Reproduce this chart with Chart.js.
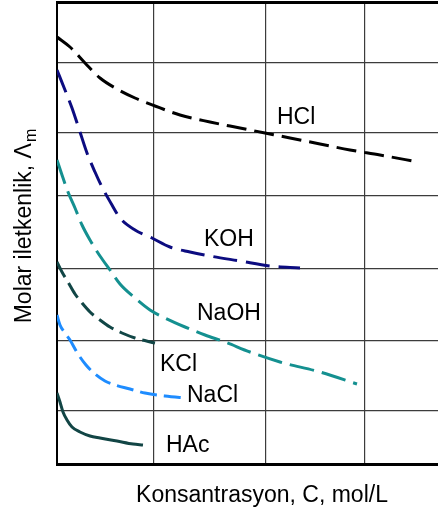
<!DOCTYPE html>
<html>
<head>
<meta charset="utf-8">
<script src="https://cdn.jsdelivr.net/npm/chart.js@4.4.0/dist/chart.umd.min.js"></script>
<style>
  html, body { margin: 0; padding: 0; background: #fff; overflow: hidden; }
  #wrap { width: 480px; height: 511px; }
</style>
</head>
<body>
<div id="wrap"><canvas id="c" width="480" height="511"></canvas></div>
<script>
// ---- Data (arbitrary units) ----
const seriesNames = ["HCl", "KOH", "NaOH", "KCl", "NaCl", "HAc"];

const hclX  = [0, 0.13, 0.28, 0.43, 0.60, 0.78, 0.98, 1.23, 1.53, 1.83, 2.08, 2.33, 2.63, 2.93, 3.23, 3.61];
const hclY  = [42.7, 41.7, 40.1, 38.6, 37.5, 36.6, 35.8, 34.9, 34.2, 33.6, 33.1, 32.6, 32.0, 31.4, 30.9, 30.2];

const kohX  = [0, 0.08, 0.15, 0.23, 0.30, 0.38, 0.45, 0.55, 0.63, 0.78, 0.95, 1.13, 1.33, 1.53, 1.83, 2.13, 2.43];
const kohY  = [39.4, 37.4, 35.6, 33.2, 31.1, 29.2, 27.7, 25.9, 24.6, 23.4, 22.6, 21.7, 21.2, 20.8, 20.3, 19.8, 19.6];

const naohX = [0, 0.05, 0.11, 0.18, 0.25, 0.33, 0.43, 0.53, 0.63, 0.78, 0.93, 1.08, 1.28, 1.48, 1.68, 1.93, 2.23, 2.63, 3.00];
const naohY = [30.4, 28.9, 27.2, 25.6, 23.9, 22.4, 20.8, 19.4, 18.0, 16.6, 15.4, 14.6, 13.7, 12.9, 12.2, 11.2, 10.2, 9.2, 8.0];

const kclX  = [0, 0.05, 0.11, 0.18, 0.25, 0.33, 0.43, 0.53, 0.65, 0.78, 0.98];
const kclY  = [20.2, 19.2, 18.2, 17.0, 16.1, 15.2, 14.4, 13.7, 13.1, 12.6, 12.1];

const naclX = [0, 0.03, 0.08, 0.13, 0.21, 0.29, 0.38, 0.48, 0.58, 0.73, 0.88, 1.08, 1.30];
const naclY = [14.9, 13.9, 13.1, 12.4, 11.0, 9.9, 9.0, 8.3, 7.9, 7.5, 7.1, 6.8, 6.6];

const hacX  = [0, 0.03, 0.06, 0.10, 0.15, 0.23, 0.33, 0.43, 0.60, 0.76, 0.86];
const hacY  = [7.1, 6.2, 5.2, 4.4, 3.7, 3.2, 2.8, 2.6, 2.3, 2.0, 1.9];

// label anchors (data units, text baseline-left)
const labelX = [2.20, 1.47, 1.40, 1.03, 1.30, 1.09];
const labelY = [34.0, 21.8, 14.4, 9.3, 6.2, 1.2];

// grid tick values (no tick labels shown)
const gridX = [0, 0.97, 2.09, 3.08, 4.1];
const gridY = [0, 5.37, 12.33, 19.57, 26.8, 33.13, 40.13, 46.2];

const xTitle = "Konsantrasyon, C, mol/L";
const yTitleMain = "Molar iletkenlik, \u039B";
const yTitleSub = "m";

const X_MAX = 4.1, Y_MAX = 46.2;

function pts(xs, ys) { return xs.map((x, i) => ({ x: x, y: ys[i] })); }

const colors = ["#000000", "#0c0c80", "#149090", "#114646", "#1e8cff", "#124545"];
const dashes = [[20, 8], [24, 9], [25, 8], [17, 7], [17, 7], []];
const allX = [hclX, kohX, naohX, kclX, naclX, hacX];
const allY = [hclY, kohY, naohY, kclY, naclY, hacY];

const datasets = seriesNames.map((n, i) => ({
  label: n,
  data: pts(allX[i], allY[i]),
  borderColor: colors[i],
  borderWidth: 3,
  borderDash: dashes[i],
  pointRadius: 0,
  fill: false,
  cubicInterpolationMode: 'monotone'
}));

const FONT = "23px 'Liberation Sans', Arial, sans-serif";

const textPlugin = {
  id: 'texts',
  afterDraw(chart) {
    const ctx = chart.ctx, ca = chart.chartArea;
    const sx = chart.scales.x, sy = chart.scales.y;
    ctx.save();
    ctx.fillStyle = '#000';
    ctx.font = FONT;
    ctx.textBaseline = 'alphabetic';
    ctx.textAlign = 'left';
    seriesNames.forEach((n, i) => {
      ctx.fillText(n, sx.getPixelForValue(labelX[i]), sy.getPixelForValue(labelY[i]));
    });
    // x title
    ctx.textAlign = 'center';
    ctx.fillText(xTitle, (ca.left + ca.right) / 2, ca.bottom + 38);
    // y title (rotated)
    ctx.textAlign = 'left';
    const wMain = ctx.measureText(yTitleMain).width;
    ctx.font = "16px 'Liberation Sans', Arial, sans-serif";
    const wSub = ctx.measureText(yTitleSub).width;
    const total = wMain + 1 + wSub;
    const cy = 226;
    ctx.translate(31, cy + total / 2);
    ctx.rotate(-Math.PI / 2);
    ctx.font = FONT;
    ctx.fillText(yTitleMain, 0, 0);
    ctx.font = "16px 'Liberation Sans', Arial, sans-serif";
    ctx.fillText(yTitleSub, wMain + 1, 5);
    ctx.restore();
  }
};

new Chart(document.getElementById('c'), {
  type: 'line',
  data: { datasets: datasets },
  options: {
    responsive: false,
    animation: false,
    layout: { padding: { left: 57, right: 13, top: 2, bottom: 47 } },
    plugins: { legend: { display: false }, tooltip: { enabled: false }, title: { display: false } },
    scales: {
      x: {
        type: 'linear', min: 0, max: X_MAX,
        afterBuildTicks: s => { s.ticks = gridX.map(v => ({ value: v })); },
        ticks: { display: false },
        grid: { color: '#3c3c3c', lineWidth: 1.2, drawTicks: false },
        border: { display: true, color: '#000', width: 3 }
      },
      y: {
        type: 'linear', min: 0, max: Y_MAX,
        afterBuildTicks: s => { s.ticks = gridY.map(v => ({ value: v })); },
        ticks: { display: false },
        grid: {
          drawTicks: false,
          color: c => (c.tick && c.tick.value === Y_MAX) ? '#000' : '#3c3c3c',
          lineWidth: c => (c.tick && c.tick.value === Y_MAX) ? 3 : 1.2
        },
        border: { display: true, color: '#000', width: 2 }
      }
    }
  },
  plugins: [textPlugin]
});
</script>
</body>
</html>
